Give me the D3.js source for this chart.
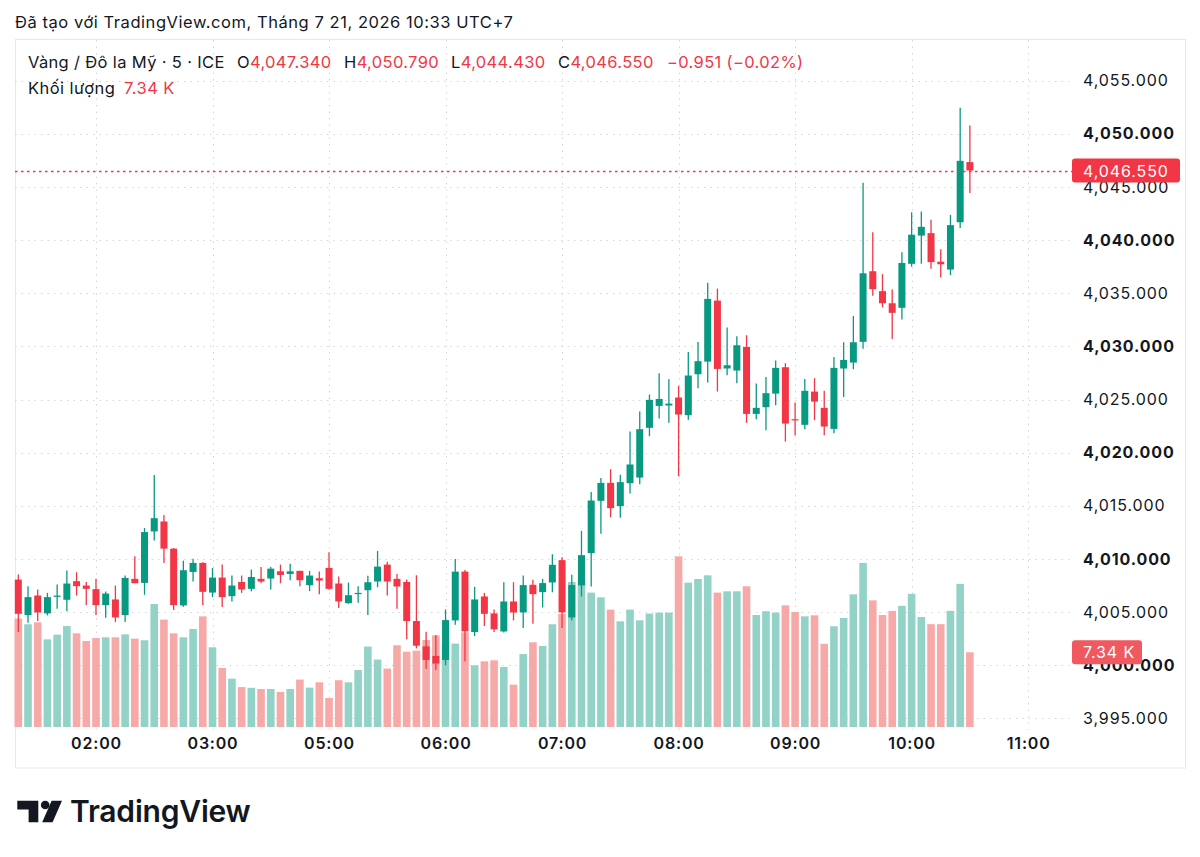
<!DOCTYPE html>
<html>
<head>
<meta charset="utf-8">
<script src="https://cdn.jsdelivr.net/npm/d3@7"></script>
<style>
  body { margin: 0; background: #fff; }
  text { font-family: Inter, "Noto Sans", sans-serif; }
</style>
</head>
<body>
<div id="chart"></div>
<script>
// 5-minute candles, XAU/USD (ICE), 01:20 -> 10:30 UTC+7, break 04:00-05:00
const times = [
  "01:20","01:25","01:30","01:35","01:40","01:45","01:50","01:55",
  "02:00","02:05","02:10","02:15","02:20","02:25","02:30","02:35","02:40","02:45","02:50","02:55",
  "03:00","03:05","03:10","03:15","03:20","03:25","03:30","03:35","03:40","03:45","03:50","03:55",
  "05:00","05:05","05:10","05:15","05:20","05:25","05:30","05:35","05:40","05:45","05:50","05:55",
  "06:00","06:05","06:10","06:15","06:20","06:25","06:30","06:35","06:40","06:45","06:50","06:55",
  "07:00","07:05","07:10","07:15","07:20","07:25","07:30","07:35","07:40","07:45","07:50","07:55",
  "08:00","08:05","08:10","08:15","08:20","08:25","08:30","08:35","08:40","08:45","08:50","08:55",
  "09:00","09:05","09:10","09:15","09:20","09:25","09:30","09:35","09:40","09:45","09:50","09:55",
  "10:00","10:05","10:10","10:15","10:20","10:25","10:30"
];

const opens = [
  4008.06,4004.72,4006.56,4004.88,4006.44,4006.16,4007.91,4007.50,
  4007.16,4005.66,4006.19,4004.72,4008.13,4007.75,4012.59,4013.53,4010.97,4005.63,4008.78,4009.63,
  4006.84,4008.25,4006.50,4007.84,4007.19,4008.13,4008.16,4008.84,4008.59,4008.88,4007.53,4008.19,
  4009.16,4007.69,4005.84,4006.69,4007.06,4007.88,4009.47,4008.13,4007.84,4004.16,4001.78,4000.88,
  4000.50,4004.22,4008.81,4003.13,4006.47,4004.88,4003.18,4006.00,4004.97,4007.57,4006.88,4007.79,
  4009.89,4004.50,4007.51,4010.55,4015.47,4017.16,4014.97,4017.13,4017.66,4022.34,4024.40,4024.44,
  4025.19,4023.53,4027.38,4028.57,4034.31,4027.92,4027.73,4029.95,4023.65,4024.28,4025.56,4028.04,
  4023.15,4022.62,4025.75,4024.22,4022.24,4027.92,4028.48,4030.43,4037.07,4035.20,4034.06,4033.63,
  4037.77,4040.43,4040.66,4037.97,4037.23,4041.68,4047.34
];
const highs = [
  4008.53,4007.44,4007.13,4006.81,4007.59,4008.91,4008.75,4007.84,
  4008.13,4006.94,4007.50,4008.44,4010.25,4012.91,4017.91,4014.13,4011.03,4009.84,4010.03,4009.69,
  4009.16,4009.47,4008.44,4008.44,4009.00,4009.25,4009.25,4009.47,4009.56,4008.90,4008.88,4008.81,
  4010.63,4008.34,4007.78,4007.44,4008.41,4010.75,4009.75,4008.59,4008.06,4008.47,4003.16,4002.84,
  4005.25,4010.00,4008.97,4007.38,4006.81,4005.25,4007.82,4007.82,4008.45,4008.04,4008.13,4010.45,
  4010.17,4008.51,4012.65,4016.29,4017.63,4018.45,4017.92,4021.99,4023.87,4025.47,4027.48,4026.91,
  4026.29,4029.48,4030.42,4036.00,4035.44,4031.77,4030.96,4031.05,4026.50,4027.13,4028.67,4028.42,
  4024.72,4026.94,4027.01,4025.82,4029.01,4030.39,4032.87,4045.39,4040.74,4036.80,4035.35,4038.87,
  4042.62,4042.70,4041.91,4039.14,4042.38,4052.46,4050.79
];
const lows = [
  4003.13,4004.00,4004.16,4004.69,4005.31,4005.09,4006.56,4005.66,
  4004.72,4004.47,4004.06,4004.06,4007.72,4006.63,4011.75,4009.63,4005.19,4005.50,4007.88,4005.66,
  4006.41,4005.47,4006.00,4006.81,4006.97,4007.75,4007.13,4007.72,4008.00,4007.44,4006.97,4006.69,
  4007.10,4005.38,4005.78,4005.88,4004.72,4007.34,4006.56,4005.31,4002.44,4001.59,3999.66,3999.56,
  4000.00,4003.81,4000.38,4002.75,4003.69,4003.13,4003.09,4004.22,4003.50,4003.90,4005.44,4006.88,
  4003.50,4004.22,4006.47,4007.41,4012.37,4013.93,4013.87,4016.16,4017.04,4021.55,4023.21,4022.81,
  4017.79,4023.09,4026.07,4026.60,4025.75,4027.29,4026.54,4022.81,4023.15,4022.12,4024.47,4021.05,
  4021.61,4022.21,4023.06,4021.65,4021.83,4025.25,4027.85,4029.77,4034.77,4033.67,4030.70,4032.54,
  4037.50,4037.77,4037.30,4036.48,4036.72,4041.13,4044.43
];
const closes = [
  4004.84,4006.41,4004.97,4006.41,4006.56,4007.69,4007.44,4007.19,
  4005.66,4006.75,4004.50,4008.22,4007.72,4012.53,4013.84,4010.97,4005.66,4008.94,4009.63,4006.91,
  4008.25,4006.41,4007.50,4007.13,4008.31,4007.88,4009.09,4008.50,4008.84,4008.00,4008.44,4007.97,
  4007.19,4006.00,4006.59,4006.81,4007.81,4009.28,4007.88,4007.41,4004.16,4001.84,4000.50,4000.16,
  4004.25,4008.81,4003.19,4006.19,4004.84,4003.38,4006.00,4004.97,4007.54,4006.69,4007.73,4009.45,
  4004.97,4007.54,4010.36,4015.50,4017.16,4014.78,4017.23,4018.89,4022.21,4024.97,4025.06,4024.62,
  4023.59,4027.26,4028.61,4034.47,4027.88,4028.23,4030.11,4023.65,4024.22,4025.60,4027.98,4022.74,
  4023.06,4025.82,4024.81,4022.46,4027.98,4028.73,4030.39,4036.88,4035.39,4034.06,4033.16,4037.85,
  4040.51,4041.25,4037.93,4037.73,4041.41,4047.46,4046.55
];
// volume in thousands
const volumes = [
  10.65,10.09,10.28,8.61,9.07,9.92,9.20,8.45,
  8.74,8.81,8.81,9.10,8.68,8.52,12.08,10.55,9.20,8.81,9.63,10.87,
  7.83,5.80,4.75,3.92,3.85,3.73,3.73,3.44,3.73,4.66,3.87,4.39,
  2.85,4.59,4.39,5.60,7.90,6.62,5.74,8.03,7.40,7.50,8.55,9.00,
  8.30,8.19,9.30,6.06,6.45,6.55,5.90,4.16,7.17,8.32,7.96,10.09,
  11.10,14.24,14.40,13.20,12.74,11.53,10.38,11.53,10.48,11.14,11.24,11.24,
  16.77,14.18,14.54,14.90,13.20,13.33,13.33,13.82,11.00,11.37,11.24,11.95,
  11.30,10.87,10.97,8.17,9.89,10.71,13.03,16.12,12.44,11.00,11.41,11.90,
  13.08,10.80,10.10,10.10,11.41,14.06,7.34
];

const priceTicks = [3995,4000,4005,4010,4015,4020,4025,4030,4035,4040,4045,4050,4055];
const timeTicks = ["02:00","03:00","05:00","06:00","07:00","08:00","09:00","10:00","11:00"];

const symbolName = "Vàng / Đô la Mỹ · 5 · ICE";
const changeText = "\u22120.951 (\u22120.02%)";
const createdText = "Đã tạo với TradingView.com, Tháng 7 21, 2026 10:33 UTC+7";

const upColor = "#089981", downColor = "#f23645";
const upVol = "#92d2c7", downVol = "#f7a9a8";
const gridColor = "#d4d6dc";
const textColor = "#131722";

const W = 1200, H = 857;
const plot = { left: 15, right: 1070, top: 40, bottom: 730 };

const svg = d3.select("#chart").append("svg")
  .attr("width", W).attr("height", H);

// index of a time label; times past the last bar are extrapolated by 5 min
function timeIndex(t) {
  const i = times.indexOf(t);
  if (i >= 0) return i;
  const last = times[times.length - 1].split(":").map(Number);
  const tt = t.split(":").map(Number);
  return times.length - 1 + ((tt[0] * 60 + tt[1]) - (last[0] * 60 + last[1])) / 5;
}

const x = d3.scaleLinear().domain([0, times.length - 1]).range([18.3, 18.3 + 98 * 9.71]);
const y = d3.scaleLinear().domain([3995, 4055]).range([718.4, 80.7]);
const yv = d3.scaleLinear().domain([0, 10]).range([727, 625.2]);

const fmt = d3.format(",.3f");

// chart frame
svg.append("rect")
  .attr("x", 15.5).attr("y", 39.5)
  .attr("width", 1170).attr("height", 728.5)
  .attr("fill", "none").attr("stroke", "#e6e8ee");

// grid
svg.append("g").selectAll("line")
  .data(priceTicks).join("line")
  .attr("x1", plot.left).attr("x2", plot.right)
  .attr("y1", d => Math.round(y(d)) + 0.5).attr("y2", d => Math.round(y(d)) + 0.5)
  .attr("stroke", gridColor).attr("stroke-dasharray", "1.5,5");

svg.append("g").selectAll("line")
  .data(timeTicks).join("line")
  .attr("x1", d => Math.round(x(timeIndex(d))) + 0.5).attr("x2", d => Math.round(x(timeIndex(d))) + 0.5)
  .attr("y1", plot.top).attr("y2", plot.bottom)
  .attr("stroke", gridColor).attr("stroke-dasharray", "1.5,5");

// data rows
const bars = times.map((t, i) => ({
  i, t, o: opens[i], h: highs[i], l: lows[i], c: closes[i], v: volumes[i]
}));

// volume bars
svg.append("g").selectAll("rect")
  .data(bars).join("rect")
  .attr("x", d => x(d.i) - 3.8)
  .attr("width", 7.6)
  .attr("y", d => yv(d.v))
  .attr("height", d => yv(0) - yv(d.v))
  .attr("fill", d => d.c >= d.o ? upVol : downVol);

// candles
const candles = svg.append("g").selectAll("g")
  .data(bars).join("g");

candles.append("line")
  .attr("x1", d => x(d.i)).attr("x2", d => x(d.i))
  .attr("y1", d => y(d.h)).attr("y2", d => y(d.l))
  .attr("stroke", d => d.c >= d.o ? upColor : downColor)
  .attr("stroke-width", 1.3);

candles.append("rect")
  .attr("x", d => x(d.i) - 3.5)
  .attr("width", 7)
  .attr("y", d => y(Math.max(d.o, d.c)))
  .attr("height", d => Math.max(1.2, Math.abs(y(d.o) - y(d.c))))
  .attr("fill", d => d.c >= d.o ? upColor : downColor);

// last price line
const last = bars[bars.length - 1];
svg.append("line")
  .attr("x1", plot.left).attr("x2", 1072)
  .attr("y1", Math.round(y(last.c)) + 0.5).attr("y2", Math.round(y(last.c)) + 0.5)
  .style("stroke", "#f23645").style("stroke-width", 1.3).style("stroke-dasharray", "2.5,3.5");

// price axis
const yAxis = svg.append("g")
  .attr("transform", "translate(1083,0)")
  .call(d3.axisRight(y).tickValues(priceTicks).tickFormat(fmt).tickSize(0).tickPadding(0));
yAxis.select(".domain").remove();
yAxis.selectAll("text")
  .attr("fill", textColor)
  .style("font-size", "16px")
  .style("letter-spacing", "0.9px")
  .style("font-weight", d => d % 10 === 0 ? 700 : 400);

// time axis
const xAxis = svg.append("g")
  .attr("transform", "translate(0,738)")
  .call(d3.axisBottom(x).tickValues(timeTicks.map(timeIndex)).tickFormat((d, i) => timeTicks[i]).tickSize(0).tickPadding(0));
xAxis.select(".domain").remove();
xAxis.selectAll("text")
  .attr("fill", textColor)
  .style("font-size", "16px")
  .style("font-weight", 600)
  .style("letter-spacing", "0.8px");

// last price label
svg.append("rect")
  .attr("x", 1072).attr("y", y(last.c) - 12)
  .attr("width", 108).attr("height", 24).attr("rx", 3)
  .attr("fill", downColor);
svg.append("text")
  .attr("x", 1083).attr("y", y(last.c) + 6)
  .attr("fill", "#fff").style("font-size", "16px").style("letter-spacing", "0.9px")
  .text(fmt(last.c));

// last volume label
svg.append("rect")
  .attr("x", 1072).attr("y", yv(last.v) - 12)
  .attr("width", 70).attr("height", 24).attr("rx", 3)
  .attr("fill", "#f0595f");
svg.append("text")
  .attr("x", 1083).attr("y", yv(last.v) + 6)
  .attr("fill", "#fff").style("font-size", "16px").style("letter-spacing", "0.9px")
  .text(last.v.toFixed(2) + " K");

// header texts
svg.append("text")
  .attr("x", 15).attr("y", 28)
  .attr("fill", textColor).style("font-size", "16.5px").style("letter-spacing", "0.55px")
  .text(createdText);

const legend = svg.append("text")
  .attr("y", 68).style("font-size", "16.5px").style("letter-spacing", "0.35px").attr("fill", textColor);
legend.append("tspan").attr("x", 28).text(symbolName);
[["O", last.o, 237], ["H", last.h, 344], ["L", last.l, 451], ["C", last.c, 558]].forEach(([k, v, px]) => {
  legend.append("tspan").attr("x", px).attr("fill", textColor).text(k);
  legend.append("tspan").attr("fill", downColor).text(fmt(v));
});
legend.append("tspan").attr("x", 667).attr("fill", downColor).text(changeText);

const volLegend = svg.append("text")
  .attr("y", 94).style("font-size", "16.5px").style("letter-spacing", "0.45px").attr("fill", textColor);
volLegend.append("tspan").attr("x", 28).text("Khối lượng");
volLegend.append("tspan").attr("x", 124).attr("fill", downColor).text(last.v.toFixed(2) + " K");

// TradingView logo
const logo = svg.append("g").attr("fill", "#131722");
logo.append("path").attr("d", "M17.3,800.7 H38.3 V822.3 H28.6 V809.6 H17.3 Z");
logo.append("circle").attr("cx", 45.2).attr("cy", 805).attr("r", 4.3);
logo.append("path").attr("d", "M51.6,800.7 H62 L52.6,822.3 H42.2 Z");
logo.append("text")
  .attr("x", 70).attr("y", 822.3)
  .style("font-size", "30px").style("font-weight", 600).style("letter-spacing", "-0.2px")
  .text("TradingView");
</script>
</body>
</html>
